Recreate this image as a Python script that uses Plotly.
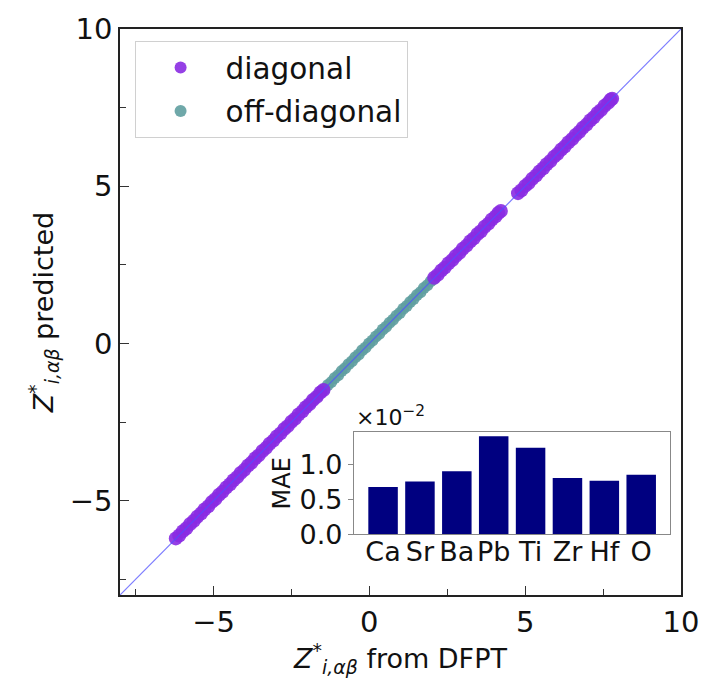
import plotly.graph_objects as go

# ---- data ----
diag_dfpt = [-6.21, -6.1, -5.98, -5.87, -5.75, -5.63, -5.52, -5.4, -5.29, -5.17, -5.05, -4.94,
             -4.82, -4.71, -4.59, -4.47, -4.36, -4.24, -4.13, -4.01, -3.89, -3.78, -3.66, -3.55,
             -3.43, -3.31, -3.2, -3.08, -2.97, -2.85, -2.73, -2.62, -2.5, -2.39, -2.27, -2.15,
             -2.04, -1.92, -1.81, -1.69, -1.57, -1.47,
             2.08, 2.19, 2.31, 2.42, 2.54, 2.66, 2.77, 2.89, 3.0, 3.12, 3.24, 3.35, 3.47, 3.58,
             3.7, 3.82, 3.93, 4.05, 4.14, 4.22,
             4.77, 4.88, 5.0, 5.11, 5.23, 5.35, 5.46, 5.58, 5.69, 5.81, 5.93, 6.04, 6.16, 6.27,
             6.39, 6.51, 6.62, 6.74, 6.85, 6.97, 7.09, 7.2, 7.32, 7.43, 7.55, 7.66, 7.74, 7.79]
diag_pred = [-6.2, -6.11, -5.97, -5.88, -5.74, -5.64, -5.51, -5.41, -5.28, -5.18, -5.04, -4.95,
             -4.81, -4.72, -4.58, -4.48, -4.35, -4.25, -4.12, -4.02, -3.88, -3.79, -3.65, -3.56,
             -3.42, -3.32, -3.19, -3.09, -2.96, -2.86, -2.72, -2.63, -2.49, -2.4, -2.26, -2.16,
             -2.03, -1.93, -1.8, -1.7, -1.56, -1.48,
             2.09, 2.18, 2.32, 2.41, 2.55, 2.65, 2.78, 2.88, 3.01, 3.11, 3.25, 3.34, 3.48, 3.57,
             3.71, 3.81, 3.94, 4.04, 4.15, 4.21,
             4.78, 4.87, 5.01, 5.1, 5.24, 5.34, 5.47, 5.57, 5.7, 5.8, 5.94, 6.03, 6.17, 6.26,
             6.4, 6.5, 6.63, 6.73, 6.86, 6.96, 7.1, 7.19, 7.33, 7.42, 7.56, 7.65, 7.75, 7.78]

off_dfpt = [-1.99, -1.88, -1.77, -1.66, -1.55, -1.44, -1.33, -1.22, -1.11, -1.0, -0.89, -0.78,
            -0.67, -0.56, -0.45, -0.34, -0.23, -0.12, -0.01, 0.1, 0.21, 0.32, 0.43, 0.54, 0.65,
            0.76, 0.87, 0.98, 1.09, 1.2, 1.31, 1.42, 1.53, 1.64, 1.75, 1.86, 1.97, 2.07]
off_pred = [-1.98, -1.89, -1.76, -1.67, -1.54, -1.45, -1.32, -1.23, -1.1, -1.01, -0.88, -0.79,
            -0.66, -0.57, -0.44, -0.35, -0.22, -0.13, 0.0, 0.09, 0.22, 0.31, 0.44, 0.53, 0.66,
            0.75, 0.88, 0.97, 1.1, 1.19, 1.32, 1.41, 1.54, 1.63, 1.76, 1.85, 1.98, 2.06]

ideal_line = [-8, 10]

elements = ["Ca", "Sr", "Ba", "Pb", "Ti", "Zr", "Hf", "O"]
mae_x100 = [0.68, 0.76, 0.905, 1.41, 1.245, 0.81, 0.77, 0.855]

main_ticks = [-5, 0, 5, 10]
main_ticklabels = ["\u22125", "0", "5", "10"]
inset_ticks = [0.0, 0.5, 1.0]
inset_ticklabels = ["0.0", "0.5", "1.0"]

FONT = "DejaVu Sans"

fig = go.Figure()

fig.add_trace(go.Scatter(
    x=off_dfpt, y=off_pred, mode="markers", name="off-diagonal",
    legendgroup="b", legendrank=2,
    marker=dict(color="#5f9ea0", size=12, opacity=0.9, line=dict(width=0)),
))
fig.add_trace(go.Scatter(
    x=diag_dfpt, y=diag_pred, mode="markers", name="diagonal",
    legendgroup="a", legendrank=1,
    marker=dict(color="#8a2be2", size=14, opacity=0.9, line=dict(width=0)),
))
fig.add_trace(go.Scatter(
    x=ideal_line, y=ideal_line, mode="lines", showlegend=False,
    line=dict(color="rgba(80,80,255,0.75)", width=1.2),
))

fig.add_trace(go.Bar(
    x=elements, y=mae_x100, xaxis="x2", yaxis="y2", showlegend=False,
    marker=dict(color="#000080", line=dict(width=0)), width=0.8,
))

axis_common = dict(
    showgrid=False, zeroline=False, showline=True, mirror=True,
    linecolor="#222", linewidth=1.5, ticks="inside", ticklen=9, tickwidth=1.2,
    tickcolor="#333", tickfont=dict(family=FONT, size=29, color="#111"),
    minor=dict(ticks="inside", dtick=2.5, tick0=0, ticklen=6, tickcolor="#333", tickwidth=1.2),
    range=[-8, 10], tickmode="array", tickvals=main_ticks, ticktext=main_ticklabels,
)

fig.update_layout(
    width=711, height=686,
    margin=dict(l=120, r=23, t=25, b=91),
    paper_bgcolor="white", plot_bgcolor="white",
    font=dict(family=FONT, color="#111"),
    xaxis=dict(axis_common,
               title=dict(text="<i>Z</i><sup>*</sup><sub><i>i,\u03b1\u03b2</i></sub> from DFPT",
                          font=dict(family=FONT, size=27), standoff=10)),
    yaxis=dict(axis_common,
               title=dict(text="<i>Z</i><sup>*</sup><sub><i>i,\u03b1\u03b2</i></sub> predicted",
                          font=dict(family=FONT, size=27), standoff=8)),
    xaxis2=dict(domain=[0.417, 0.981], anchor="y2", range=[-0.79, 7.79],
                showgrid=False, zeroline=False, showline=True, mirror=True,
                linecolor="#888", linewidth=1.2, ticks="", tickangle=0,
                ticklabelstandoff=-7,
                tickfont=dict(family=FONT, size=27, color="#111")),
    yaxis2=dict(domain=[0.107, 0.288], anchor="x2", range=[0, 1.47],
                showgrid=False, zeroline=False, showline=True, mirror=True,
                linecolor="#888", linewidth=1.2, ticks="outside", ticklen=5,
                tickcolor="#888", tickmode="array", tickvals=inset_ticks,
                ticktext=inset_ticklabels,
                tickfont=dict(family=FONT, size=27, color="#111"),
                title=dict(text="MAE", font=dict(family=FONT, size=24), standoff=2)),
    legend=dict(x=0.026, y=0.979, xanchor="left", yanchor="top",
                bgcolor="white", bordercolor="#d0d0d0", borderwidth=1,
                font=dict(family=FONT, size=29.5, color="#111"),
                tracegroupgap=2, itemsizing="constant", itemwidth=80),
    annotations=[dict(text="\u00d710<sup>\u22122</sup>", xref="x2 domain", yref="y2 domain",
                      x=0.0, y=1.0, xanchor="left", yanchor="bottom", showarrow=False,
                      font=dict(family=FONT, size=22, color="#111"))],
)

fig.write_html("out.html")
